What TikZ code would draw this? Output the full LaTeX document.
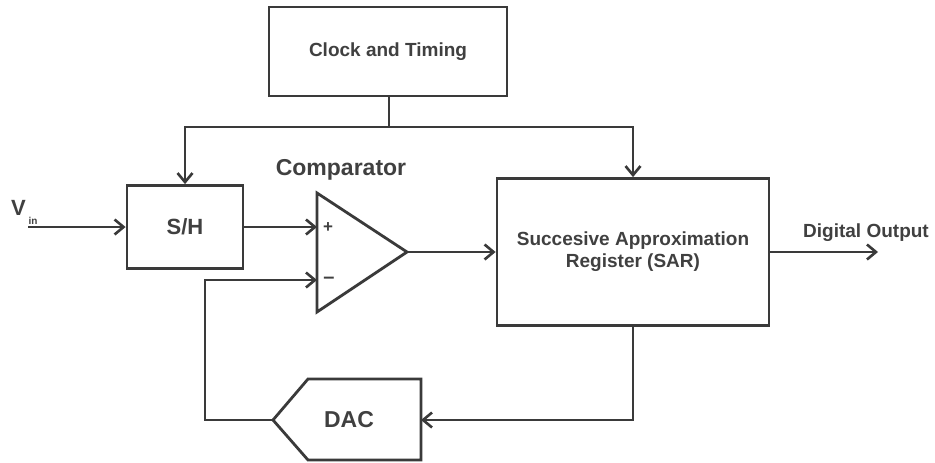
\documentclass[tikz,border=0pt]{standalone}
\usepackage{fontspec}
\setmainfont{Liberation Sans}
\usetikzlibrary{arrows.meta}
\definecolor{ink}{HTML}{3A3A3A}
\definecolor{txt}{HTML}{404040}
\tikzset{
  blk/.style={draw=ink, line width=2.8pt, fill=white, inner sep=0pt, align=center,
              text=txt, font=\bfseries\fontsize{19}{23}\selectfont},
  wire/.style={draw=ink, line width=2.7pt},
  sig/.style={wire, -{Straight Barb[length=9pt,width=15pt,line width=2.6pt]}},
  lbl/.style={text=txt, inner sep=0pt, font=\bfseries\fontsize{19}{23}\selectfont}
}
\begin{document}
\begin{tikzpicture}[x=1pt,y=-1pt]
\useasboundingbox (0,0) rectangle (935,463);

% blocks
\node[blk, minimum width=238pt, minimum height=89pt] (clock) at (388,51.5) {Clock and Timing};
\node[blk, minimum width=116pt, minimum height=83pt, font=\bfseries\fontsize{22}{26}\selectfont] (sh) at (185,227) {S/H};
\node[blk, minimum width=272pt, minimum height=147pt] (sar) at (633,252)
  {Succesive Approximation\\[-1pt]Register (SAR)};

% comparator
\draw[ink, line width=2.8pt, line join=miter, fill=white] (317,193) -- (407,252) -- (317,312) -- cycle;
\coordinate (cp) at (317,227);
\coordinate (cm) at (317,280);
\coordinate (co) at (407,252);
\node[lbl, font=\bfseries\fontsize{17}{17}\selectfont] (plus) at (328,228) {+};
\node[lbl, font=\bfseries\fontsize{20}{20}\selectfont] (minus) at (329,280) {\char"2013};
\node[lbl, font=\bfseries\fontsize{23}{23}\selectfont] (complbl) at (341,170) {Comparator};

% DAC
\draw[ink, line width=2.8pt, line join=miter, fill=white]
  (421,379) -- (308,379) -- (273,420) -- (308,460) -- (421,460) -- cycle;
\coordinate (dacin) at (421,420);
\coordinate (dacout) at (273,420);
\node[lbl, font=\bfseries\fontsize{23}{23}\selectfont] (dac) at (349,420) {DAC};

% input and output
\coordinate (vin) at (28,227);
\node[lbl, font=\bfseries\fontsize{22}{22}\selectfont] (vlbl) at (18.5,208) {V};
\node[lbl, font=\bfseries\fontsize{10}{10}\selectfont] (inlbl) at (33,221) {in};
\coordinate (dout) at (878,252);
\node[lbl] (doutlbl) at (866,233) {Digital Output};

% clock distribution
\coordinate (tap) at (389,127);
\draw[wire] (389,96) -- (tap);
\draw[sig] (tap) -| (sh.north);
\draw[sig] (tap) -| (sar.north);

% signal path
\draw[sig] (vin) -- (sh.west |- vin);
\draw[sig] (sh.east |- cp) -- (cp);
\draw[sig] (co) -- (sar.west |- co);
\draw[sig] (sar.east |- dout) -- (dout);
\draw[sig] (sar.south) |- (dacin);
\draw[sig] (dacout) -- (205,420) |- (cm);
\end{tikzpicture}
\end{document}
